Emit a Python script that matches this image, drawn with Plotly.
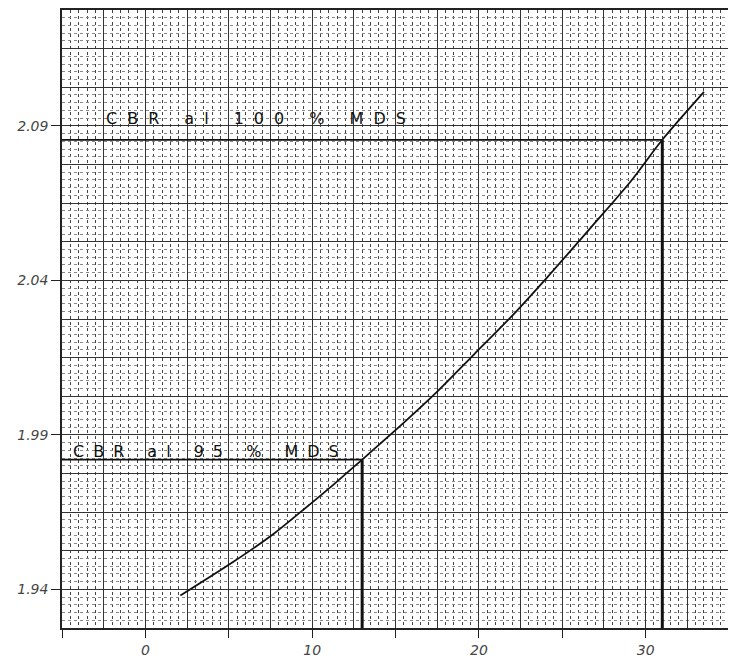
import plotly.graph_objects as go

# Curve (x: CBR %, y: dry density)
cbr_x = [2.1, 5.3, 7.7, 9.3, 11.3, 13.0, 15.1, 17.5, 19.7, 21.9, 24.1, 26.7, 29.1, 31.0, 33.5]
dens_y = [1.938, 1.949, 1.958, 1.965, 1.974, 1.982, 1.992, 2.004, 2.016, 2.028, 2.041, 2.057, 2.072, 2.0855, 2.101]

# Reference readings
cbr95_x, cbr95_y = 13.0, 1.982
cbr100_x, cbr100_y = 31.0, 2.0855
label95 = "CBR al 95 % MDS"
label100 = "CBR al 100 % MDS"

x_range = [-5, 35]
y_range = [1.9275, 2.1275]
x_tickvals = [-5, 0, 5, 10, 15, 20, 25, 30, 35]
x_ticktext = ["", "0", "", "10", "", "20", "", "30", ""]
y_tickvals = [1.94, 1.99, 2.04, 2.09]
y_ticktext = ["1.94", "1.99", "2.04", "2.09"]

fig = go.Figure()

# invisible trace to anchor the secondary grid axes
fig.add_trace(go.Scatter(x=cbr_x, y=dens_y, xaxis="x2", yaxis="y2", mode="lines",
                         line=dict(color="rgba(0,0,0,0)"), hoverinfo="skip", showlegend=False))

fig.add_trace(go.Scatter(x=cbr_x, y=dens_y, mode="lines",
                         line=dict(color="#111", width=1.8, shape="spline", smoothing=0.8),
                         showlegend=False))

# 95 % reading lines
fig.add_trace(go.Scatter(x=[x_range[0], cbr95_x], y=[cbr95_y, cbr95_y], mode="lines",
                         line=dict(color="#111", width=1.8), showlegend=False))
fig.add_trace(go.Scatter(x=[cbr95_x, cbr95_x], y=[cbr95_y, y_range[0]], mode="lines",
                         line=dict(color="#111", width=3), showlegend=False))
# 100 % reading lines
fig.add_trace(go.Scatter(x=[x_range[0], cbr100_x], y=[cbr100_y, cbr100_y], mode="lines",
                         line=dict(color="#111", width=1.8), showlegend=False))
fig.add_trace(go.Scatter(x=[cbr100_x, cbr100_x], y=[cbr100_y, y_range[0]], mode="lines",
                         line=dict(color="#111", width=3), showlegend=False))

ann_font = dict(family="DejaVu Sans", size=16, color="#111")
fig.add_annotation(x=-2.5, y=2.0925, xref="x", yref="y", xanchor="left", yanchor="middle",
                   text='<span style="letter-spacing:10px">' + label100 + '</span>',
                   showarrow=False, font=ann_font)
fig.add_annotation(x=-4.45, y=1.9845, xref="x", yref="y", xanchor="left", yanchor="middle",
                   text='<span style="letter-spacing:9px">' + label95 + '</span>',
                   showarrow=False, font=ann_font)

tick_font = dict(family="DejaVu Sans", size=14, color="#444", style="italic")

# the page body has an 8px margin, so the figure is sized to fit the 736x660 window
fig.update_layout(
    width=728, height=652,
    margin=dict(l=54, r=7, t=2, b=32, autoexpand=False),
    paper_bgcolor="white", plot_bgcolor="white",
    xaxis=dict(range=x_range, tickmode="array", tickvals=x_tickvals, ticktext=x_ticktext,
               ticks="outside", ticklen=8, tickcolor="#222", tickwidth=1.2,
               showgrid=True, gridcolor="#333", gridwidth=1,
               minor=dict(dtick=0.5, showgrid=True, gridcolor="#444", griddash="dot", gridwidth=1),
               showline=True, linecolor="#222", linewidth=1.5, mirror=True,
               zeroline=False, tickfont=tick_font, automargin=False),
    yaxis=dict(range=y_range, tickmode="array", tickvals=y_tickvals, ticktext=y_ticktext,
               ticks="outside", ticklen=9, tickcolor="#222", tickwidth=1.2,
               showgrid=True, gridcolor="#333", gridwidth=1,
               minor=dict(dtick=0.0025, tick0=1.94, showgrid=True, gridcolor="#888", griddash="dot", gridwidth=1),
               showline=True, linecolor="#222", linewidth=1.5, mirror=True,
               zeroline=False, tickfont=tick_font, automargin=False),
    xaxis2=dict(range=x_range, overlaying="x", dtick=2.5, tick0=0, showgrid=True, gridcolor="#333",
                gridwidth=1, showticklabels=False, ticks="", zeroline=False, anchor="y2", automargin=False),
    yaxis2=dict(range=y_range, overlaying="y", dtick=0.0125, tick0=1.94, showgrid=True, gridcolor="#333",
                gridwidth=1, showticklabels=False, ticks="", zeroline=False, anchor="x2", automargin=False),
)

fig.write_html("out.html")
